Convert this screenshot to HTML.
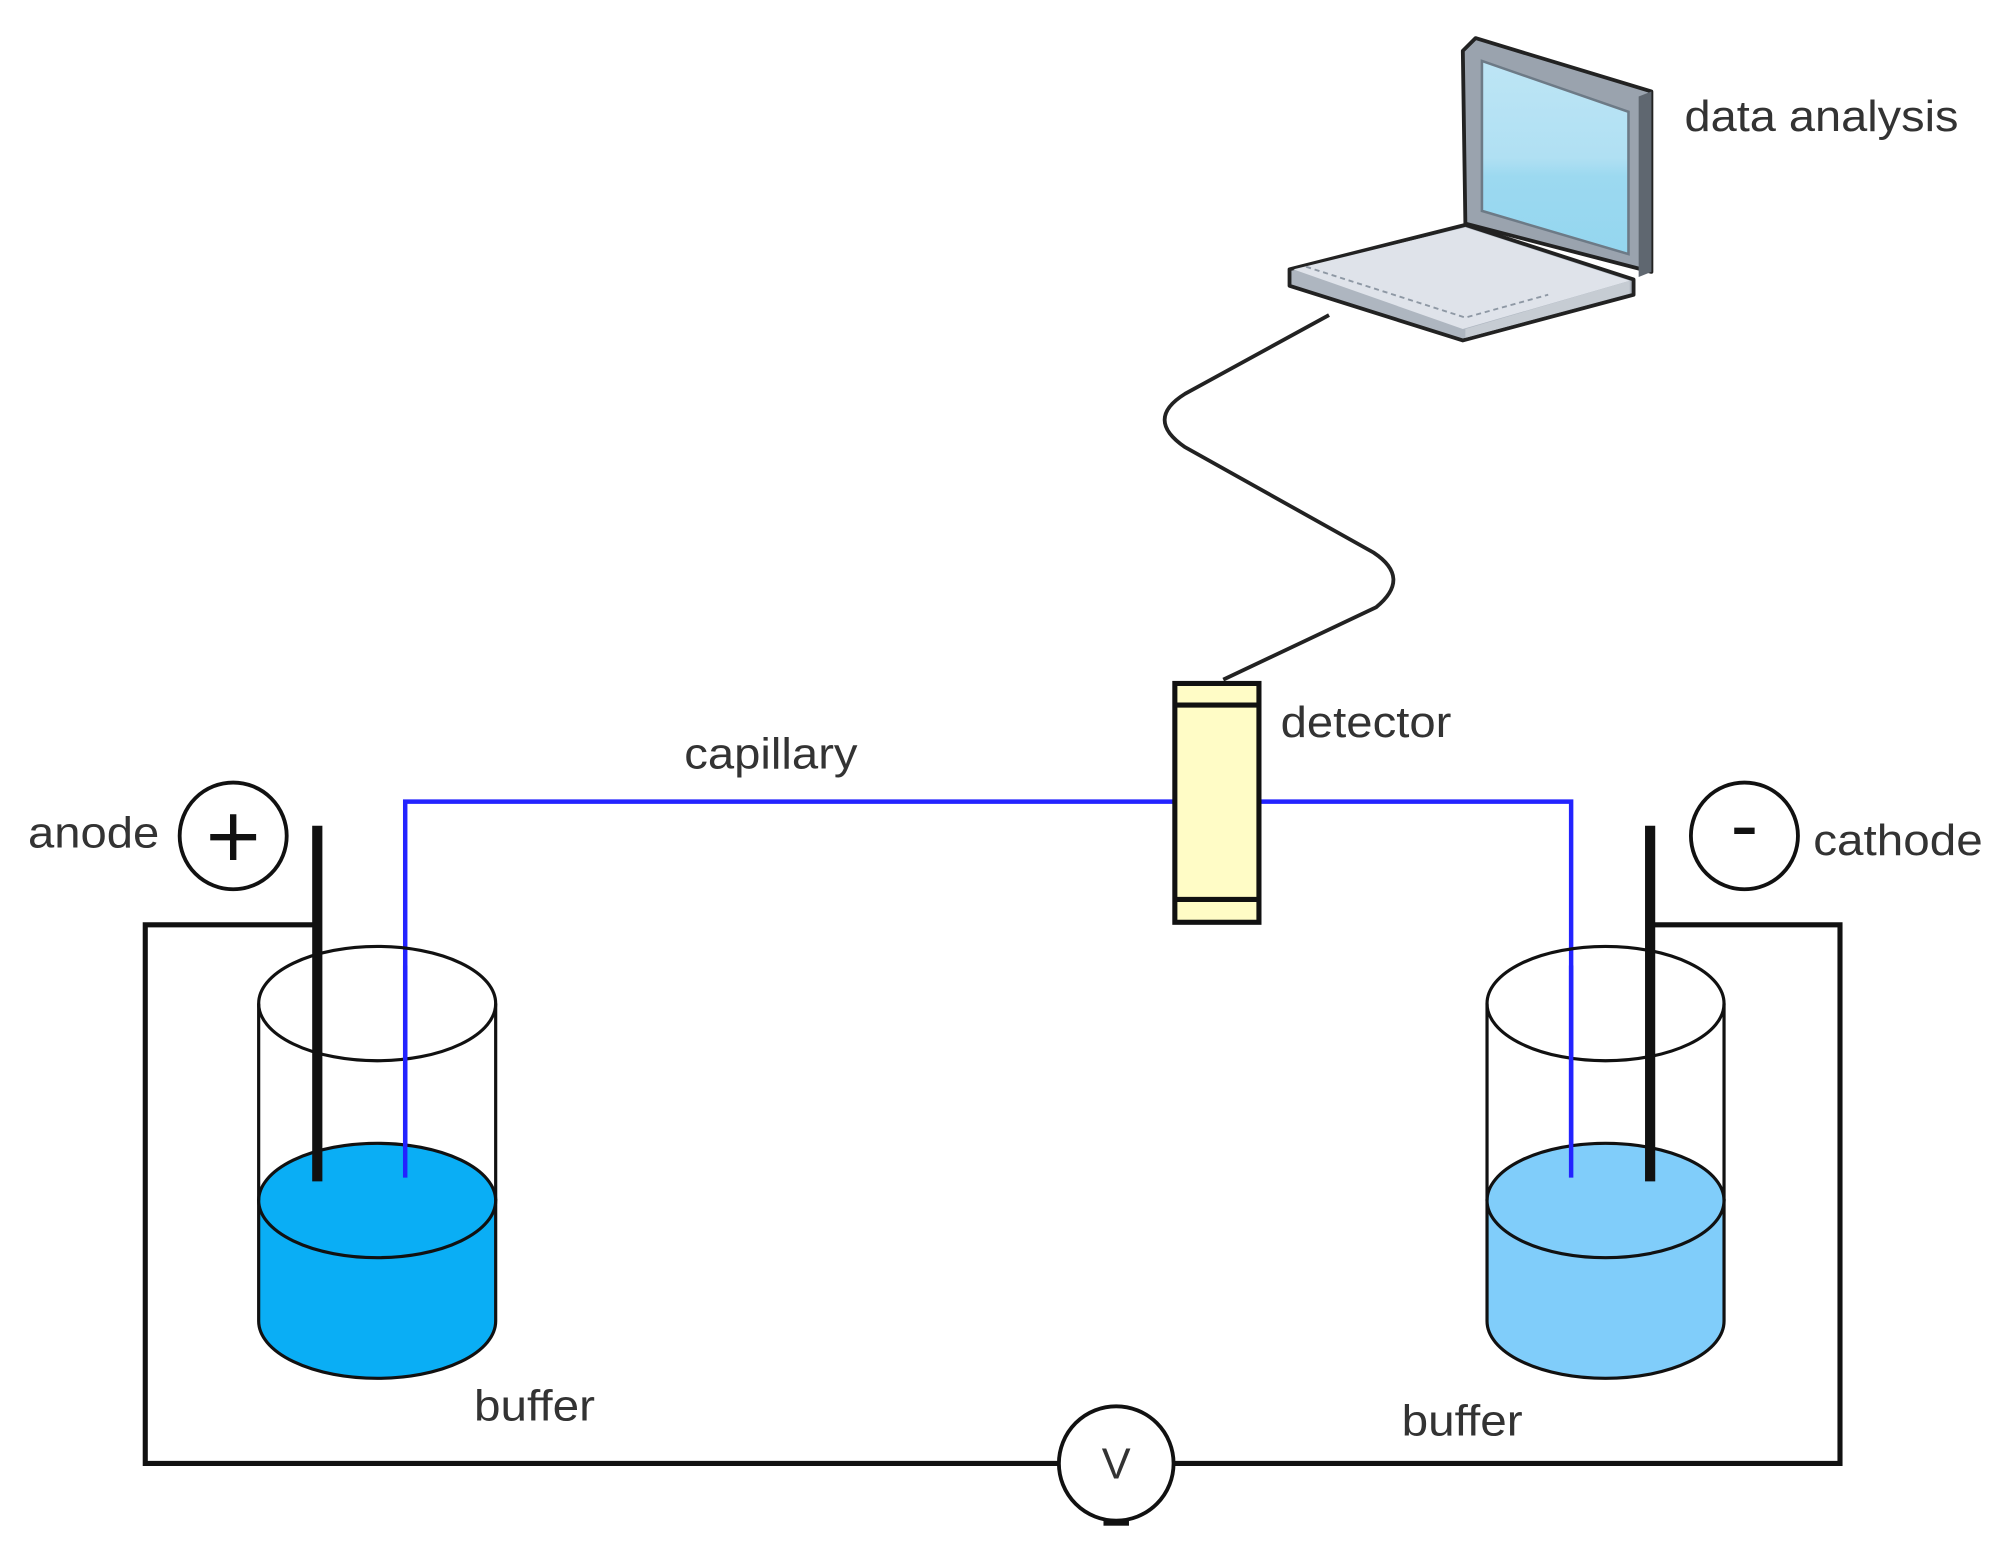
<!DOCTYPE html>
<html><head><meta charset="utf-8"><style>
html,body{margin:0;padding:0;background:#fff;}
svg{display:block;}
text{font-family:"Liberation Sans",Arial,sans-serif;fill:#333;}
</style></head><body>
<svg width="1998" height="1560" viewBox="0 0 1568 1228" preserveAspectRatio="none" xmlns="http://www.w3.org/2000/svg">
<defs>
<linearGradient id="scr" x1="0" y1="0" x2="0" y2="1"><stop offset="0" stop-color="#bde5f5"/><stop offset="0.5" stop-color="#b0e0f3"/><stop offset="0.6" stop-color="#9cd9f0"/><stop offset="1" stop-color="#94d6ef"/></linearGradient>
</defs>
<!-- laptop -->
<polygon points="1148,40 1158,30 1296,72 1296,214 1150,176" fill="#9aa3ae" stroke="#222" stroke-width="3" stroke-linejoin="round"/>
<polygon points="1286,76 1296,72 1296,214 1286,218" fill="#5f6770"/>
<polygon points="1163,48 1278,88 1278,200 1163,166" fill="url(#scr)" stroke="#6d7a86" stroke-width="2"/>
<polygon points="1012,212 1150,177 1282,220 1282,232 1148,268 1012,225" fill="#aeb6c0" stroke="#222" stroke-width="3" stroke-linejoin="round"/>
<polygon points="1015,212 1150,179 1279,221 1148,259" fill="#dfe3ea"/>
<polygon points="1150,259 1279,221 1279,231 1150,266" fill="#c6ccd3"/>
<polyline points="1025,210 1150,250 1215,232" fill="none" stroke="#8e98a4" stroke-width="1.5" stroke-dasharray="4,3"/>
<text x="1322" y="103" font-size="34" textLength="215" lengthAdjust="spacingAndGlyphs">data analysis</text>
<!-- cable -->
<path d="M1043,248 L930,310 Q898,330 930,352 L1078,435 Q1108,455 1080,478 L960,535" fill="none" stroke="#222" stroke-width="3"/>
<!-- capillary -->
<polyline points="318,927 318,631 922,631" fill="none" stroke="#2323ff" stroke-width="3.5"/>
<polyline points="988,631 1233,631 1233,927" fill="none" stroke="#2323ff" stroke-width="3.5"/>
<!-- detector -->
<rect x="922" y="538" width="66" height="188" fill="#fffcc6" stroke="#111" stroke-width="4"/>
<line x1="922" y1="555" x2="988" y2="555" stroke="#111" stroke-width="4"/>
<line x1="922" y1="708" x2="988" y2="708" stroke="#111" stroke-width="4"/>
<text x="1005" y="580" font-size="34" textLength="134" lengthAdjust="spacingAndGlyphs">detector</text>
<text x="537" y="605" font-size="34" textLength="136" lengthAdjust="spacingAndGlyphs">capillary</text>
<!-- circuit -->
<polyline points="249,728 114,728 114,1152 831,1152" fill="none" stroke="#111" stroke-width="4"/>
<polyline points="921,1152 1444,1152 1444,728 1295,728" fill="none" stroke="#111" stroke-width="4"/>
<circle cx="876" cy="1152" r="45" fill="#fff" stroke="#111" stroke-width="3"/>
<text x="876" y="1164" font-size="34" text-anchor="middle" fill="#444">V</text>
<rect x="866" y="1197" width="20" height="4" fill="#111"/>
<!-- left beaker -->
<g stroke="#111" stroke-width="2.5">
<path d="M203,945 L203,1040 A93,45 0 0 0 389,1040 L389,945 Z" fill="#0aaef5"/>
<ellipse cx="296" cy="945" rx="93" ry="45" fill="#0aaef5"/>
<ellipse cx="296" cy="790" rx="93" ry="45" fill="none"/>
<line x1="203" y1="790" x2="203" y2="945"/>
<line x1="389" y1="790" x2="389" y2="945"/>
</g>
<!-- right beaker -->
<g stroke="#111" stroke-width="2.5">
<path d="M1167,945 L1167,1040 A93,45 0 0 0 1353,1040 L1353,945 Z" fill="#80cdfa"/>
<ellipse cx="1260" cy="945" rx="93" ry="45" fill="#80cdfa"/>
<ellipse cx="1260" cy="790" rx="93" ry="45" fill="none"/>
<line x1="1167" y1="790" x2="1167" y2="945"/>
<line x1="1353" y1="790" x2="1353" y2="945"/>
</g>
<!-- capillary ends over beakers -->
<line x1="318" y1="760" x2="318" y2="927" stroke="#2323ff" stroke-width="3.5"/>
<line x1="1233" y1="760" x2="1233" y2="927" stroke="#2323ff" stroke-width="3.5"/>
<!-- electrodes -->
<line x1="249" y1="650" x2="249" y2="930" stroke="#111" stroke-width="8"/>
<line x1="1295" y1="650" x2="1295" y2="930" stroke="#111" stroke-width="8"/>
<!-- anode / cathode -->
<circle cx="183" cy="658" r="42" fill="#fff" stroke="#111" stroke-width="3"/>
<line x1="165" y1="659" x2="201" y2="659" stroke="#111" stroke-width="5"/>
<line x1="183" y1="641" x2="183" y2="677" stroke="#111" stroke-width="5"/>
<circle cx="1369" cy="658" r="42" fill="#fff" stroke="#111" stroke-width="3"/>
<line x1="1361" y1="654" x2="1377" y2="654" stroke="#111" stroke-width="5"/>
<text x="22" y="667" font-size="34" textLength="103" lengthAdjust="spacingAndGlyphs">anode</text>
<text x="1423" y="673" font-size="34" textLength="133" lengthAdjust="spacingAndGlyphs">cathode</text>
<text x="372" y="1118" font-size="34" textLength="95" lengthAdjust="spacingAndGlyphs">buffer</text>
<text x="1100" y="1130" font-size="34" textLength="95" lengthAdjust="spacingAndGlyphs">buffer</text>
</svg>
</body></html>
